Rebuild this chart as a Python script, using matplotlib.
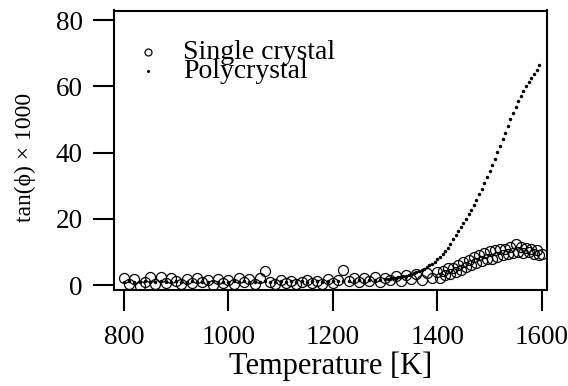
import matplotlib
matplotlib.use("Agg")
import matplotlib.pyplot as plt

plt.rcParams['font.family'] = ['Liberation Serif', 'DejaVu Serif']

# ---- data ----
t_single = [800, 810, 820, 830, 840, 850, 860, 870, 880, 890,
            900, 910, 920, 930, 940, 950, 960, 970, 980, 990,
            1000, 1010, 1020, 1030, 1040, 1050, 1060, 1070, 1080, 1090,
            1100, 1110, 1120, 1130, 1140, 1150, 1160, 1170, 1180, 1190,
            1200, 1210, 1220, 1230, 1240, 1250, 1260, 1270, 1280, 1290,
            1300, 1310, 1320, 1330, 1340, 1350, 1360, 1370, 1380, 1390,
            1400, 1405, 1410, 1415, 1420, 1425, 1430, 1435, 1440, 1445,
            1450, 1455, 1460, 1465, 1470, 1475, 1480, 1485, 1490, 1495,
            1500, 1505, 1510, 1515, 1520, 1525, 1530, 1535, 1540, 1545,
            1550, 1555, 1560, 1565, 1570, 1575, 1580, 1585, 1590, 1595,
            1600]
v_single = [2.2, 0.3, 1.9, -0.2, 1.0, 2.3, 0.4, 2.4, 0.6, 2.1,
            1.2, 0.2, 1.8, 0.5, 2.2, 0.9, 1.6, 0.1, 1.9, 0.6,
            1.5, 0.3, 2.0, 0.8, 1.7, 0.4, 2.2, 4.2, 1.0, 0.2,
            1.4, 0.5, 1.1, 0.3, 0.9, 1.6, 0.6, 1.3, 0.4, 1.8,
            0.7, 1.5, 4.6, 1.2, 2.0, 0.8, 2.2, 1.3, 2.4, 1.0,
            2.1, 1.4, 2.6, 1.2, 2.9, 1.8, 3.2, 1.5, 3.6, 2.2,
            3.8, 2.0, 4.3, 3.0, 5.0, 3.4, 5.2, 4.0, 6.0, 4.6,
            7.1, 5.3, 7.5, 6.0, 8.4, 6.7, 9.2, 7.4, 9.6, 8.0,
            10.2, 7.9, 10.5, 8.4, 11.0, 9.0, 10.8, 9.4, 11.6, 9.8,
            12.3, 10.0, 11.5, 9.6, 11.2, 10.1, 11.0, 9.4, 10.6, 9.0,
            9.3]

t_poly = [800, 810, 820, 830, 840, 850, 860, 870, 880, 890,
          900, 910, 920, 930, 940, 950, 960, 970, 980, 990,
          1000, 1010, 1020, 1030, 1040, 1050, 1060, 1070, 1080, 1090,
          1100, 1110, 1120, 1130, 1140, 1150, 1160, 1170, 1180, 1190,
          1200, 1210, 1220, 1230, 1240, 1250, 1260, 1270, 1280, 1290,
          1300, 1305, 1310, 1315, 1320, 1325, 1330, 1335, 1340, 1345,
          1350, 1355, 1360, 1365, 1370, 1375, 1380, 1385, 1390, 1395,
          1400, 1405, 1410, 1415, 1420, 1425, 1430, 1435, 1440, 1445,
          1450, 1455, 1460, 1465, 1470, 1475, 1480, 1485, 1490, 1495,
          1500, 1505, 1510, 1515, 1520, 1525, 1530, 1535, 1540, 1545,
          1550, 1555, 1560, 1565, 1570, 1575, 1580, 1585, 1590, 1595]
v_poly = [0.9, 1.1, 0.8, 1.0, 1.2, 0.9, 1.0, 1.1, 0.8, 1.0,
          1.1, 0.9, 1.0, 1.2, 0.9, 1.0, 0.8, 1.1, 1.0, 0.9,
          1.0, 1.2, 0.9, 1.1, 1.0, 0.8, 1.0, 1.1, 0.9, 1.0,
          1.1, 1.0, 1.2, 0.9, 1.1, 1.0, 1.2, 1.1, 1.0, 1.2,
          1.1, 1.3, 1.2, 1.1, 1.3, 1.4, 1.3, 1.5, 1.4, 1.6,
          1.7, 1.8, 1.9, 2.0, 2.1, 2.3, 2.4, 2.6, 2.8, 3.0,
          3.2, 3.5, 3.8, 4.1, 4.5, 4.9, 5.4, 5.9, 6.5, 7.1,
          7.8, 8.6, 9.4, 10.3, 11.3, 12.5, 13.8, 15.1, 16.4, 17.6,
          18.8, 20.0, 21.3, 22.7, 24.2, 25.8, 27.4, 29.1, 30.9, 32.7,
          34.5, 36.3, 38.2, 40.1, 42.0, 44.0, 46.0, 48.0, 50.0, 52.0,
          53.9, 55.6, 57.2, 58.7, 60.1, 61.4, 62.6, 63.8, 65.0, 66.3]

x_ticks = [800, 1000, 1200, 1400, 1600]
y_ticks = [0, 20, 40, 60, 80]
labels = ["Single crystal", "Polycrystal"]

# ---- figure ----
W, H = 568, 386
fig = plt.figure(figsize=(W / 100, H / 100), dpi=100)
ax = fig.add_axes([113.5 / W, 1 - 290 / H, (547 - 113.5) / W, (290 - 10.5) / H])

ax.plot(t_single, v_single, linestyle='none', marker='o', markersize=7.2,
        markerfacecolor='none', markeredgecolor='black', markeredgewidth=0.9)
ax.plot(t_poly, v_poly, linestyle='none', marker='o', markersize=2.5,
        markerfacecolor='black', markeredgecolor='black', markeredgewidth=0)

ax.set_xlim(780, 1610)
ax.set_ylim(-1.5, 82.9)
ax.set_xticks(x_ticks)
ax.set_yticks(y_ticks)
ax.tick_params(axis='both', direction='out', length=15, width=1.5,
               labelsize=19.5, top=False, right=False)
ax.tick_params(axis='y', pad=7)
ax.tick_params(axis='x', pad=10)
for s in ax.spines.values():
    s.set_linewidth(1.5)

ax.set_xlabel("Temperature [K]", fontsize=22, labelpad=1.5)
fig.text(25 / W, 1 - 157 / H, "tan(\u03d5) \u00d7 1000", rotation=90,
         ha='center', va='center', fontsize=17)

# legend (drawn by hand to match the tight line spacing)
ax.plot([148.3 / W], [1 - 51.7 / H], transform=fig.transFigure, clip_on=False,
        linestyle='none', marker='o', markersize=5, markerfacecolor='none',
        markeredgecolor='black', markeredgewidth=0.9)
ax.plot([148.3 / W], [1 - 70.5 / H], transform=fig.transFigure, clip_on=False,
        linestyle='none', marker='o', markersize=2.2, markerfacecolor='black',
        markeredgewidth=0)
fig.text(183.3 / W, 1 - 59.3 / H, labels[0], ha='left', va='baseline', fontsize=20)
fig.text(183.3 / W, 1 - 78.3 / H, labels[1], ha='left', va='baseline', fontsize=20)

fig.savefig("out.png", dpi=100)
